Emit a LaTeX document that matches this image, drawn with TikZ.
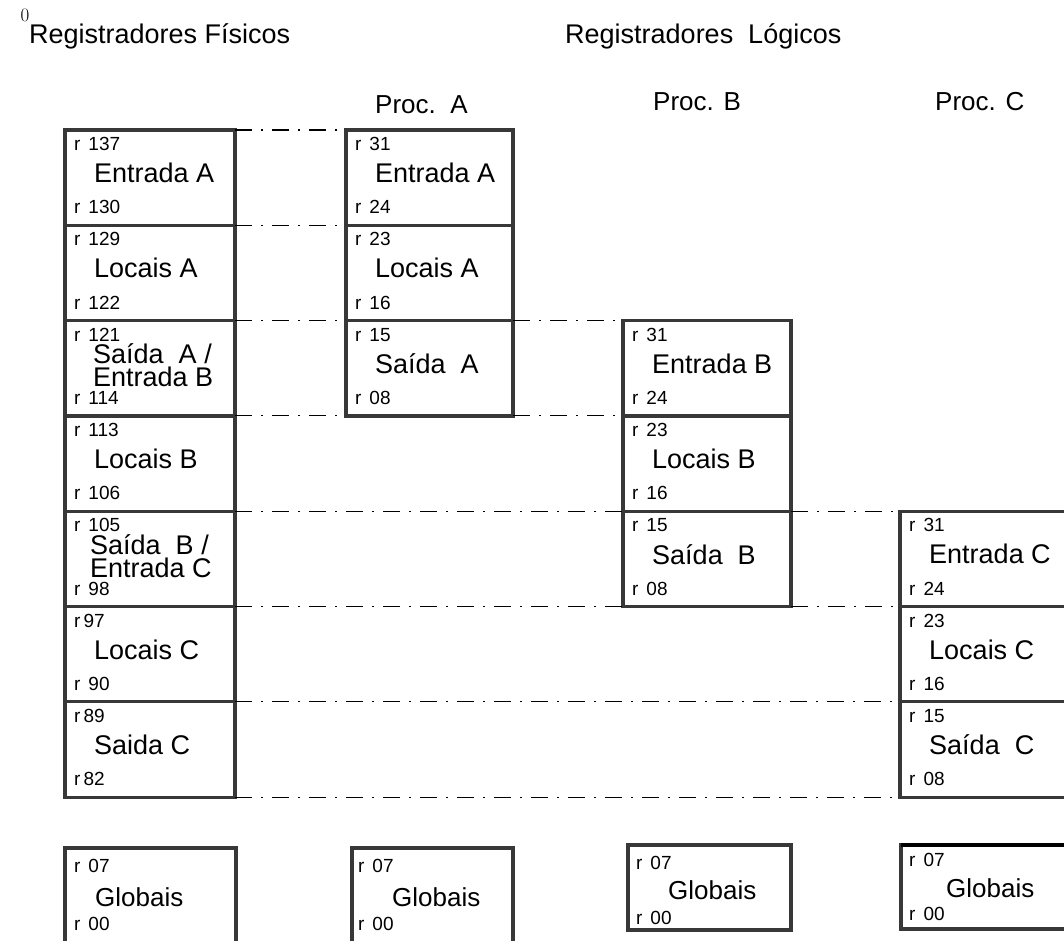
\documentclass[tikz,border=0pt]{standalone}
\usepackage{fontspec}
\setsansfont{Liberation Sans}
\newcommand\rn[1]{r\hspace{0.42em}#1}
\newcommand\regbox[8]{%
  \node[reg, minimum width=#4pt, minimum height=#5pt] (#1) at (#2,#3) {};
  \node[lbl] (#1t) at ([xshift=9pt,yshift=-14pt]#1.north west) {#6};
  \node[nm] (#1m) at ([xshift=29pt,yshift=-43pt]#1.north west) {#7};
  \node[lbl] (#1b) at ([xshift=9pt,yshift=18pt]#1.south west) {#8};
}
\tikzset{
  reg/.style={draw=black!78, line width=3.2pt, outer sep=0pt, inner sep=0pt, anchor=north west},
  lbl/.style={font=\sffamily\fontsize{19}{20}\selectfont, anchor=west, inner sep=0pt},
  nm/.style={font=\sffamily\fontsize{27}{23}\selectfont, anchor=west, inner sep=0pt, align=left},
  hd/.style={font=\sffamily\fontsize{27}{30}\selectfont, anchor=base west, inner sep=0pt},
  dd/.style={line width=1.1pt, dash pattern=on 17pt off 9pt on 2pt off 9pt}
}
\begin{document}
\begin{tikzpicture}[x=1pt,y=-1pt]
\useasboundingbox (0,0) rectangle (1064,940);
\clip (0,0) rectangle (1064,940);
\fill[white] (0,0) rectangle (1064,940);
% headings
\node[font=\fontsize{19}{20}\selectfont, inner sep=0pt] (zero) at (25,15) {0};
\node[hd] (hphys) at (29,43) {Registradores Físicos};
\node[hd] (hlog) at (565,43) {Registradores\ \ Lógicos};
\node[hd, font=\sffamily\fontsize{26}{30}\selectfont] (hA) at (375,113) {Proc.\ \ A};
\node[hd, font=\sffamily\fontsize{26}{30}\selectfont] (hB) at (653,110) {Proc. B};
\node[hd, font=\sffamily\fontsize{26}{30}\selectfont] (hC) at (935,110) {Proc. C};
% physical registers
\regbox{P1}{65}{130}{170}{95.3}{\rn{137}}{Entrada A}{\rn{130}}
\regbox{P2}{65}{225.3}{170}{95.3}{\rn{129}}{Locais A}{\rn{122}}
\regbox{P3}{65}{320.6}{170}{95.3}{\rn{121}}{}{\rn{114}}
\node[nm] (P3m2) at ([xshift=28pt,yshift=-45pt]P3.north west) {Saída\ \ A\ /\\Entrada B};
\regbox{P4}{65}{415.9}{170}{95.3}{\rn{113}}{Locais B}{\rn{106}}
\regbox{P5}{65}{511.2}{170}{95.3}{\rn{105}}{}{\rn{98}}
\node[nm] (P5m2) at ([xshift=25pt,yshift=-45pt]P5.north west) {Saída\ \ B\ /\\Entrada C};
\regbox{P6}{65}{606.5}{170}{95.3}{r\,97}{Locais C}{\rn{90}}
\regbox{P7}{65}{701.8}{170}{95.3}{r\,89}{Saida C}{r\,82}
% Proc A
\regbox{A1}{346}{130}{167}{95.3}{\rn{31}}{Entrada A}{\rn{24}}
\regbox{A2}{346}{225.3}{167}{95.3}{\rn{23}}{Locais A}{\rn{16}}
\regbox{A3}{346}{320.6}{167}{95.3}{\rn{15}}{Saída\ \ A}{\rn{08}}
% Proc B
\regbox{B1}{623}{320.6}{168}{95.3}{\rn{31}}{Entrada B}{\rn{24}}
\regbox{B2}{623}{415.9}{168}{95.3}{\rn{23}}{Locais B}{\rn{16}}
\regbox{B3}{623}{511.2}{168}{95.3}{\rn{15}}{Saída\ \ B}{\rn{08}}
% Proc C
\regbox{C1}{900}{511.2}{175}{95.3}{\rn{31}}{Entrada C}{\rn{24}}
\regbox{C2}{900}{606.5}{175}{95.3}{\rn{23}}{Locais C}{\rn{16}}
\regbox{C3}{900}{701.8}{175}{95.3}{\rn{15}}{Saída\ \ C}{\rn{08}}
% dash-dot connectors
\draw[dd] (P1.north east) -- (A1.north west);
\draw[dd] (P1.south east) -- (A1.south west);
\draw[dd] (P2.south east) -- (A2.south west);
\draw[dd] (A3.north east) -- (B1.north west);
\draw[dd] (P3.south east) -- (A3.south west);
\draw[dd] (A3.south east) -- (B1.south west);
\draw[dd] (P4.south east) -- (B2.south west);
\draw[dd] (B3.north east) -- (C1.north west);
\draw[dd] (P5.south east) -- (B3.south west);
\draw[dd] (B3.south east) -- (C1.south west);
\draw[dd] (P6.south east) -- (C2.south west);
\draw[dd] (P7.south east) -- (C3.south west);
% globals
\node[reg, minimum width=171pt, minimum height=100pt] (PG) at (65,848) {};
\node[lbl] (PGt) at ([xshift=9pt,yshift=-18pt]PG.north west) {\rn{07}};
\node[nm, font=\sffamily\fontsize{26}{23}\selectfont] (PGm) at ([xshift=30pt,yshift=-49pt]PG.north west) {Globais};
\node[lbl] (PGb) at ([xshift=9pt,yshift=-76pt]PG.north west) {\rn{00}};
\node[reg, minimum width=161pt, minimum height=100pt] (AG) at (352,848) {};
\node[lbl] (AGt) at ([xshift=6pt,yshift=-18pt]AG.north west) {\rn{07}};
\node[nm, font=\sffamily\fontsize{26}{23}\selectfont] (AGm) at ([xshift=40pt,yshift=-49pt]AG.north west) {Globais};
\node[lbl] (AGb) at ([xshift=6pt,yshift=-76pt]AG.north west) {\rn{00}};
\node[reg, minimum width=163pt, minimum height=85pt] (BG) at (628,845) {};
\node[lbl] (BGt) at ([xshift=8pt,yshift=-18pt]BG.north west) {\rn{07}};
\node[nm, font=\sffamily\fontsize{26}{23}\selectfont] (BGm) at ([xshift=40pt,yshift=-45pt]BG.north west) {Globais};
\node[lbl] (BGb) at ([xshift=8pt,yshift=-73pt]BG.north west) {\rn{00}};
\node[reg, minimum width=175pt, minimum height=84pt] (CG) at (901,845) {};
\draw[line width=4.5pt] (CG.north west) -- (CG.north east);
\node[lbl] (CGt) at ([xshift=8pt,yshift=-15pt]CG.north west) {\rn{07}};
\node[nm, font=\sffamily\fontsize{26}{23}\selectfont] (CGm) at ([xshift=45pt,yshift=-43pt]CG.north west) {Globais};
\node[lbl] (CGb) at ([xshift=8pt,yshift=-69pt]CG.north west) {\rn{00}};
\end{tikzpicture}
\end{document}
